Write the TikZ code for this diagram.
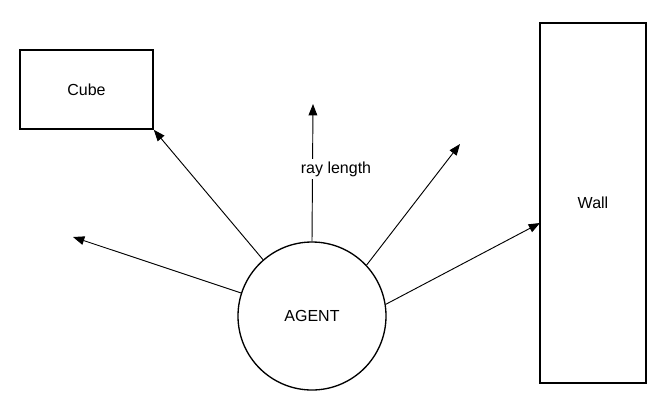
\documentclass[tikz,border=0pt]{standalone}
\usepackage{fontspec}
\setmainfont{Liberation Sans}
\usetikzlibrary{arrows.meta}

\begin{document}
\begin{tikzpicture}[x=0.75pt, y=-0.75pt,
    >={Triangle[length=8.5pt,width=6.5pt]},
    font=\fontsize{12}{14}\selectfont,
    obj/.style={draw, line width=1.2pt, inner sep=0pt},
    ray/.style={->, line width=0.7pt}]
  \useasboundingbox (0,0) rectangle (669,405);
  % ---- objects ----
  \node[obj, minimum width=99.75pt, minimum height=59.25pt] (cube) at (86.5,89.5) {Cube};
  \node[obj, minimum width=79.5pt, minimum height=270pt] (wall) at (593,203) {Wall};
  \node[draw, circle, line width=1pt, minimum size=111pt, inner sep=0pt] (agent) at (312,316) {AGENT};
  % ---- ray ends ----
  \coordinate (endleft) at (73,237);
  \coordinate (endup) at (313,104);
  \coordinate (endright) at (460,144);
  \coordinate (hitwall) at (540,223);
  % ---- rays ----
  \draw[ray] (agent.162) -- (endleft);
  \draw[ray] (agent.131) -- (cube.south east);
  \draw[ray] (agent.north) -- (endup);
  \draw[ray] (agent.43) -- (endright);
  \draw[ray] (agent.9) -- (hitwall);
  \node[fill=white, inner sep=2pt] (raylen) at (336,169) {ray length};
\end{tikzpicture}
\end{document}
